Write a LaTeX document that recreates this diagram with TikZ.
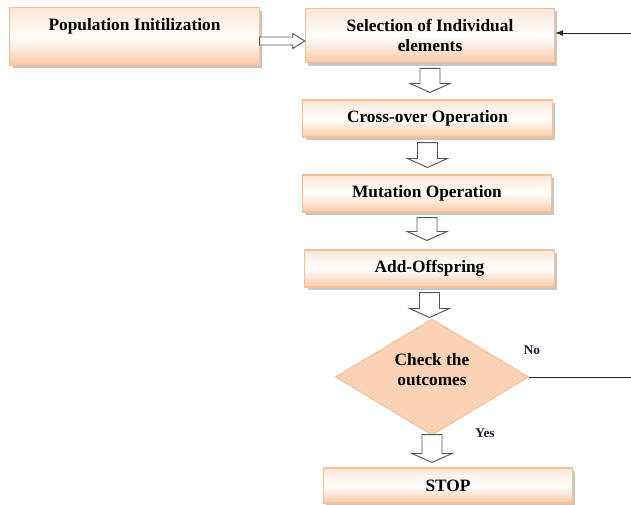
\documentclass[tikz,border=0pt]{standalone}
\usepackage{fontspec}
\setmainfont{Liberation Serif}
\usetikzlibrary{shapes.geometric,shadows,calc,arrows.meta}

\definecolor{peachline}{RGB}{245,192,152}
\definecolor{peachtop}{RGB}{253,230,214}
\definecolor{peachbot}{RGB}{250,202,166}
\definecolor{peachdia}{RGB}{250,210,180}
\definecolor{arrowgray}{RGB}{85,85,85}
\definecolor{labelnavy}{RGB}{25,30,60}

\begin{document}
\begin{tikzpicture}[x=0.75pt, y=-0.75pt, % pixel grid, y going down
		stepbox/.style={draw=peachline, line width=0.8pt, top color=peachtop, bottom color=peachbot, middle color=white,
			minimum width=187pt, font=\bfseries\fontsize{13}{15}\selectfont, align=center,
			drop shadow={shadow xshift=2pt, shadow yshift=-2.2pt, opacity=0.45}},
		checkbox/.style={diamond, aspect=1.66, draw=peachline, line width=0.8pt, fill=peachdia, minimum width=145pt, minimum height=87pt,
			inner sep=0pt, font=\bfseries\fontsize{13}{15}\selectfont, align=center},
		note/.style={font=\bfseries\fontsize{10}{12}\selectfont, text=labelnavy},
		thinline/.style={draw=black!85, line width=0.6pt},
		fatdown/.style 2 args={fill=white, draw=arrowgray, line width=0.7pt, to path={
			($(\tikztostart)+(-10,#1)$) -- ($(\tikztotarget -| \tikztostart)+(-10,-9-#2)$) -- ++(-10,0)
			-- ($(\tikztotarget -| \tikztostart)+(0,-#2)$) -- ++(20,-9) -- ++(-10,0) -- ($(\tikztostart)+(10,#1)$) -- cycle}},
		fatright/.style={fill=white, draw=arrowgray, line width=0.7pt, to path={
			($(\tikztostart)+(0,-4)$) -- ($(\tikztotarget)+(-12,-4)$) -- ++(0,-3.5) -- (\tikztotarget)
			-- ++(-12,7.5) -- ++(0,-3.5) -- ($(\tikztostart)+(0,4)$) -- cycle}}]
		
		\useasboundingbox (0,0) rectangle (631,504);
		
		% Boxes of the flow
		\node[stepbox, minimum height=43pt, text depth=18pt] (pop) at (134.5,36.5) {Population Initilization};
		\node[stepbox, minimum height=41pt] (sel) at (430,35.5) {Selection of Individual\\elements};
		\node[stepbox, minimum height=27.75pt] (cross) at (427.5,118.5) {Cross-over Operation};
		\node[stepbox, minimum height=27.75pt] (mut) at (427,193.5) {Mutation Operation};
		\node[stepbox, minimum height=27.75pt] (add) at (429.5,268.5) {Add-Offspring};
		
		% Decision and end
		\node[checkbox] (check) at (432,377) {Check the\\outcomes\\[-3pt]\mbox{}};
		\node[stepbox, minimum height=26.25pt] (stop) at (448,485.5) {STOP};
		
		% Branch labels
		\node[note] (no) at (532,350) {No};
		\node[note] (yes) at (485,433) {Yes};
		
		% Loop back ends (cut at the right edge)
		\coordinate (loopin) at (631,33);
		\coordinate (loopout) at (631,377);
		
		% Hollow arrows
		\draw[fatright] ($(pop.east)+(0,4.5)$) to ($(pop.east -| sel.west)+(0,4.5)$);
		\draw[fatdown={5}{7}] (sel.south) to (cross.north);
		\draw[fatdown={5}{7}] (cross.south) to (mut.north);
		\draw[fatdown={5}{9}] (mut.south) to (add.north);
		\draw[fatdown={5}{1}] (add.south) to (check.north);
		\draw[fatdown={-1}{5}] (check.south) to (stop.north);
		
		% Loop back lines
		\draw[thinline] (check.east) -- (loopout);
		\draw[thinline, -{Latex[length=6pt,width=4.5pt]}] (loopin) -- (loopin -| sel.east);
	\end{tikzpicture}
\end{document}
